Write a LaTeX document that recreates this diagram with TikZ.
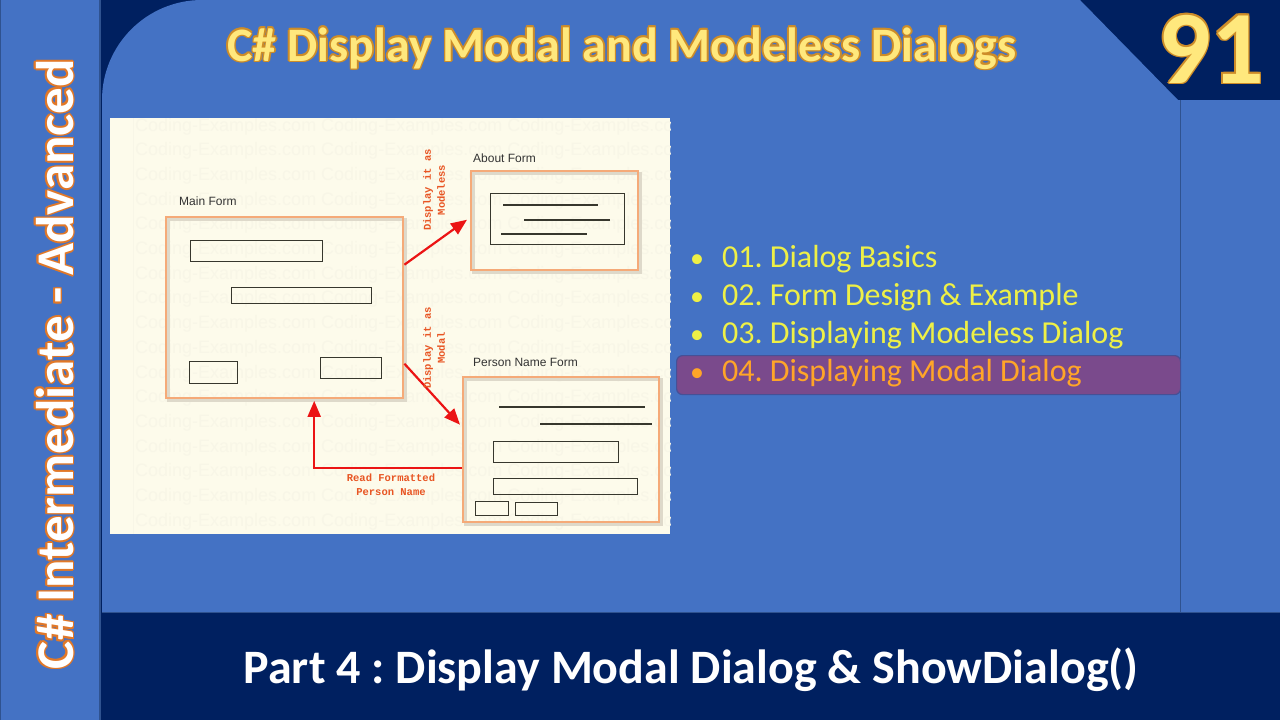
\documentclass[tikz,border=0pt]{standalone}
\usepackage{fontspec}
\setmainfont{Carlito}
\newfontfamily\diagfont{Liberation Sans}
\newfontfamily\monofont{Liberation Mono}
\usetikzlibrary{arrows.meta}
\frenchspacing
\definecolor{panelblue}{RGB}{68,114,196}
\definecolor{navy}{RGB}{0,32,96}
\definecolor{sepline}{RGB}{47,82,143}
\definecolor{cream}{RGB}{253,251,235}
\definecolor{wmark}{RGB}{248,246,231}
\definecolor{listyellow}{RGB}{238,240,70}
\definecolor{hlfill}{RGB}{122,74,140}
\definecolor{hlborder}{RGB}{70,80,150}
\definecolor{hltext}{RGB}{255,165,40}
\definecolor{titlefill}{RGB}{255,232,125}
\definecolor{titleline}{RGB}{205,140,40}
\definecolor{sideline}{RGB}{225,120,40}
\definecolor{formorange}{RGB}{245,170,120}
\definecolor{arrowred}{RGB}{235,20,20}
\definecolor{labelred}{RGB}{232,85,35}
\definecolor{boxline}{RGB}{55,55,45}
\definecolor{shadowgray}{RGB}{222,217,202}
\newcommand\glowtext[5]{%
  \foreach \dx/\dy in {-1.6/0,1.6/0,0/-1.6,0/1.6,-1.1/-1.1,1.1/1.1,-1.1/1.1,1.1/-1.1}{%
    \node[#2,text=#3] at ([xshift=\dx pt,yshift=\dy pt]#1) {#5};}%
  \node[#2,text=#4] at (#1) {#5};}
\tikzset{
  formbox/.style={draw=formorange,line width=2.4pt,anchor=north west,inner sep=0pt},
  formshadow/.style={draw=shadowgray,line width=3pt},
  ctlbox/.style={draw=boxline,line width=1.1pt,anchor=north west,inner sep=0pt},
  ctlline/.style={draw=boxline,line width=1.1pt},
  formlabel/.style={font=\diagfont\fontsize{12}{14}\selectfont,text=black!80,anchor=base west,inner sep=0pt},
  redlabel/.style={font=\monofont\bfseries\fontsize{10.5}{14}\selectfont,text=labelred,align=center,inner sep=0pt},
  redarrow/.style={draw=arrowred,line width=2.2pt,-{Triangle[length=16pt,width=13pt]}},
  listitem/.style={font=\fontsize{32}{34}\selectfont,text=listyellow,anchor=base west,inner sep=0pt},
  bullet/.style={font=\fontsize{28}{30}\selectfont,text=listyellow,anchor=base,inner sep=0pt},
}
\begin{document}
\begin{tikzpicture}[x=1pt,y=-1pt]
\useasboundingbox (0,0) rectangle (1280,720);
% background
\fill[navy] (0,0) rectangle (1280,720);
% main panel
\fill[panelblue] (102,612) -- (102,100) arc[start angle=180,end angle=270,radius=100] -- (1080,0) -- (1178,100) -- (1280,100) -- (1280,612) -- cycle;
\draw[sepline,line width=1pt] (102,612) -- (1280,612);
\draw[sepline,line width=1pt] (1180,100) -- (1180,612);
% left strip
\fill[panelblue] (0,0) rectangle (100,720);
\draw[sepline,line width=1.2pt] (100,0) -- (100,720);
\draw[sepline,line width=1pt] (0.5,0) -- (0.5,720);

% title
\coordinate (titlepos) at (622,61);
\glowtext{titlepos}{anchor=base,inner sep=0pt,font=\bfseries\fontsize{48}{50}\selectfont}{titleline}{titlefill}{C\# Display Modal and Modeless Dialogs}
% number
\coordinate (numpos) at (1211,83);
\glowtext{numpos}{anchor=base,inner sep=0pt,font=\bfseries\fontsize{104}{110}\selectfont}{titleline}{titlefill}{91}
% left vertical
\coordinate (sidepos) at (73,364);
\glowtext{sidepos}{anchor=base,rotate=90,inner sep=0pt,font=\bfseries\fontsize{53}{55}\selectfont}{sideline}{white}{C\# Intermediate - Advanced}
% bottom
\node[anchor=base,inner sep=0pt,font=\bfseries\fontsize{48}{50}\selectfont,text=white] (parttitle) at (691,683) {Part 4 : Display Modal Dialog \& ShowDialog()};

% picture background
\fill[cream] (110,118) rectangle (670,534);
\begin{scope}
\clip (110,118) rectangle (670,534);
\draw[wmark,line width=0.8pt] (133,118) -- (133,534);
\foreach \r in {0,...,16}{
  \node[anchor=base west,inner sep=0pt,font=\diagfont\fontsize{18}{20}\selectfont,text=wmark] at (135,{131+24.7*\r}) {Coding-Examples.com Coding-Examples.com Coding-Examples.com};
}
\end{scope}

% Main form
\node[formlabel] (mainlbl) at (179,205) {Main Form};
\draw[formshadow] (168,219) rectangle (405,400);
\node[formbox,minimum width=237pt,minimum height=181pt] (main) at (165,216) {};
\node[ctlbox,minimum width=132pt,minimum height=21pt] (mb1) at (190,240) {};
\node[ctlbox,minimum width=140pt,minimum height=16pt] (mb2) at (231,287) {};
\node[ctlbox,minimum width=48pt,minimum height=22pt] (mb3) at (189,361) {};
\node[ctlbox,minimum width=61pt,minimum height=21pt] (mb4) at (320,357) {};

% About form
\node[formlabel] (aboutlbl) at (473,162) {About Form};
\draw[formshadow] (473,173) rectangle (640,272);
\node[formbox,minimum width=167pt,minimum height=99pt] (about) at (470,170) {};
\node[ctlbox,minimum width=134pt,minimum height=51pt] (aboutinner) at (490,193) {};
\coordinate (al1a) at (503,205); \coordinate (al1b) at (598,205);
\coordinate (al2a) at (524,220); \coordinate (al2b) at (610,220);
\coordinate (al3a) at (501,234); \coordinate (al3b) at (587,234);
\draw[ctlline] (al1a) -- (al1b);
\draw[ctlline] (al2a) -- (al2b);
\draw[ctlline] (al3a) -- (al3b);

% Person name form
\node[formlabel] (personlbl) at (473,366) {Person Name Form};
\draw[formshadow] (465,379) rectangle (661,524);
\node[formbox,minimum width=196pt,minimum height=145pt] (person) at (462,376) {};
\coordinate (pl1a) at (499,407); \coordinate (pl1b) at (645,407);
\coordinate (pl2a) at (540,424); \coordinate (pl2b) at (652,424);
\draw[ctlline] (pl1a) -- (pl1b);
\draw[ctlline] (pl2a) -- (pl2b);
\node[ctlbox,minimum width=125pt,minimum height=21pt] (pb1) at (493,441) {};
\node[ctlbox,minimum width=144pt,minimum height=16pt] (pb2) at (493,478) {};
\node[ctlbox,minimum width=33pt,minimum height=14pt] (pb3) at (475,501) {};
\node[ctlbox,minimum width=42pt,minimum height=13pt] (pb4) at (515,502) {};

% arrows
\draw[redarrow] ([yshift=43pt]main.east) -- ([xshift=-3pt,yshift=1pt]about.west);
\draw[redarrow] ([yshift=-56pt]main.east) -- ([xshift=-2pt,yshift=25pt]person.west);
\draw[redarrow] ([yshift=-18.5pt]person.west) -| ([xshift=29.5pt,yshift=-1.5pt]main.south);

% labels
\node[redlabel,rotate=90] (modelesslbl) at (434,190) {Display it as\\Modeless};
\node[redlabel,rotate=90] (modallbl) at (434,348) {Display it as\\Modal};
\node[redlabel] (readlbl) at (391,485) {Read Formatted\\Person Name};

% list
\node[rounded corners=6pt,draw=hlborder,line width=1.2pt,fill=hlfill,anchor=north west,minimum width=504pt,minimum height=39pt,inner sep=0pt] (hl) at (676,355) {};
\node[bullet] (b1) at (697,267) {•};
\node[listitem] (l1) at (722,267) {01. Dialog Basics};
\node[bullet] (b2) at (697,305) {•};
\node[listitem] (l2) at (722,305) {02. Form Design \& Example};
\node[bullet] (b3) at (697,343) {•};
\node[listitem] (l3) at (722,343) {03. Displaying Modeless Dialog};
\node[bullet,text=hltext] (b4) at (697,381) {•};
\node[listitem,text=hltext] (l4) at (722,381) {04. Displaying Modal Dialog};
\end{tikzpicture}
\end{document}
